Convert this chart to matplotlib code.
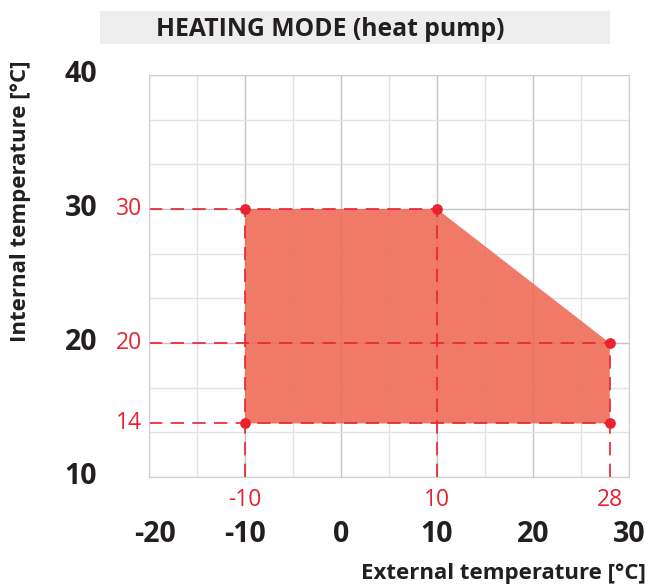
import matplotlib.pyplot as plt
import numpy as np
from matplotlib.patches import Polygon, Rectangle

# operating envelope corners (external temp, internal temp)
ext_t = [-10, 10, 28, 28, -10]
int_t = [30, 30, 20, 14, 14]
# red reference labels
x_marks = [-10, 10, 28]
y_marks = [30, 20, 14]
x_ticks = [-20, -10, 0, 10, 20, 30]
y_ticks = [10, 20, 30, 40]

plt.rcParams['font.family'] = ['Open Sans', 'DejaVu Sans']
red = '#E8232F'
black = '#231F20'

fig = plt.figure(figsize=(6.64, 5.84), dpi=100)
ax = fig.add_axes([149/664, 1-477/584, 480/664, 402/584])
ax.set_xlim(-20, 30)
ax.set_ylim(10, 40)

# grid
for v in np.arange(-20, 31, 5):
    ax.axvline(v, color='#C4C4C4' if v % 10 == 0 else '#E2E2E2', lw=1, zorder=0)
for v in np.linspace(10, 40, 10):
    major = abs(v - round(v/10)*10) < 1e-6
    ax.axhline(v, color='#C4C4C4' if major else '#E2E2E2', lw=1, zorder=0)
for s in ax.spines.values():
    s.set_color('#CFCFCF')
ax.set_xticks([])
ax.set_yticks([])

# envelope
ax.add_patch(Polygon(np.column_stack([ext_t, int_t]), closed=True,
                     facecolor='#EF6B58', alpha=0.9, edgecolor='none', zorder=1))

# dashed guides
dash = dict(color=red, lw=1.2, dashes=(8, 5), zorder=2)
ax.plot([-20, 10], [30, 30], **dash)
ax.plot([-20, 28], [20, 20], **dash)
ax.plot([-20, 28], [14, 14], **dash)
ax.plot([-10, -10], [10, 30], **dash)
ax.plot([10, 10], [10, 30], **dash)
ax.plot([28, 28], [10, 20], **dash)
ax.scatter(ext_t, int_t, s=45, color=red, zorder=3, clip_on=False)

tx = ax.get_xaxis_transform()
ty = ax.get_yaxis_transform()
for v in x_marks:
    ax.text(v, -0.057, str(v), transform=tx, color=red, fontsize=16.5,
            ha='center', va='center')
for v in y_marks:
    ax.text(-0.015, v, str(v), transform=ty, color=red, fontsize=16.5,
            ha='right', va='center')
for v in x_ticks:
    xv = v + 0.6 if v == -20 else v
    ax.text(xv, -0.144, str(v), transform=tx, color=black, fontsize=20.5,
            fontweight='bold', ha='center', va='center')
for v in y_ticks:
    ax.text(-0.108, v, str(v), transform=ty, color=black, fontsize=20.5,
            fontweight='bold', ha='right', va='center')

# title band
fig.patches.append(Rectangle((100/664, 1-44/584), 510/664, 33/584,
                             transform=fig.transFigure, facecolor='#EDEDEE',
                             edgecolor='none', zorder=0))
fig.text(330/664, 1-29/584, 'HEATING MODE (heat pump)', fontsize=17.8,
         fontweight='bold', color=black, ha='center', va='center')
fig.text(646/664, 1-574/584, 'External temperature [°C]', fontsize=16,
         fontweight='bold', color=black, ha='right', va='center')
fig.text(21/664, 1-201/584, 'Internal temperature [°C]', fontsize=16,
         fontweight='bold', color=black, ha='center', va='center', rotation=90)

fig.savefig('out.png', dpi=100)
